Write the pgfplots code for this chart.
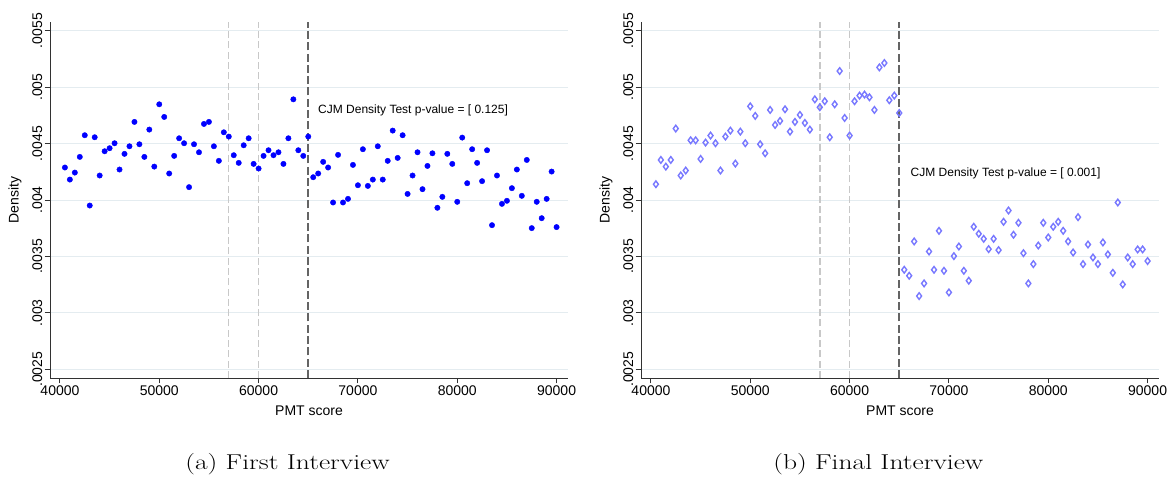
\documentclass[border=0pt]{standalone}
\usepackage{fontspec}
\usepackage{graphicx}
\usepackage{pgfplots}
\usepackage{pgfplotstable}
\pgfplotsset{compat=1.18}
\newfontfamily\hv{Liberation Sans}
\definecolor{dotblue}{RGB}{0,0,255}
\definecolor{diam}{RGB}{120,120,255}
\definecolor{diamfill}{RGB}{218,218,255}
\definecolor{gridc}{RGB}{228,236,240}
\definecolor{lgray}{RGB}{200,200,200}
\definecolor{dgray}{RGB}{100,100,100}
\definecolor{axc}{RGB}{50,50,50}

\pgfplotstableread{
x y
40500 .004288
41000 .004181
41500 .004243
42000 .004382
42500 .004574
43000 .003951
43500 .004556
44000 .004217
44500 .004432
45000 .004459
45500 .004503
46000 .004270
46500 .004409
47000 .004476
47500 .004692
48000 .004494
48500 .004382
49000 .004624
49500 .004296
50000 .004848
50500 .004736
51000 .004235
51500 .004391
52000 .004547
52500 .004503
53000 .004114
53500 .004494
54000 .004423
54500 .004674
55000 .004692
55500 .004476
56000 .004347
56500 .004600
57000 .004562
57500 .004397
58000 .004329
58500 .004485
59000 .004547
59500 .004320
60000 .004279
60500 .004391
61000 .004441
61500 .004397
62000 .004423
62500 .004320
63000 .004547
63500 .004892
64000 .004441
64500 .004391
65000 .004562
65500 .004202
66000 .004235
66500 .004338
67000 .004288
67500 .003978
68000 .004400
68500 .003978
69000 .004010
69500 .004311
70000 .004131
70500 .004450
71000 .004125
71500 .004181
72000 .004476
72500 .004181
73000 .004347
73500 .004615
74000 .004373
74500 .004574
75000 .004054
75500 .004217
76000 .004423
76500 .004096
77000 .004302
77500 .004414
78000 .003931
78500 .004028
79000 .004409
79500 .004320
80000 .003984
80500 .004553
81000 .004149
81500 .004450
82000 .004329
82500 .004167
83000 .004441
83500 .003777
84000 .004217
84500 .003966
85000 .003993
85500 .004105
86000 .004270
86500 .004037
87000 .004355
87500 .003751
88000 .003984
88500 .003839
89000 .004010
89500 .004252
90000 .003760
}\firstint

\pgfplotstableread{
x y
40500 .004140
41000 .004355
41500 .004296
42000 .004355
42500 .004633
43000 .004217
43500 .004261
44000 .004529
44500 .004529
45000 .004364
45500 .004509
46000 .004571
46500 .004503
47000 .004261
47500 .004562
48000 .004615
48500 .004323
49000 .004606
49500 .004503
50000 .004830
50500 .004745
51000 .004494
51500 .004414
52000 .004798
52500 .004665
53000 .004701
53500 .004804
54000 .004606
54500 .004692
55000 .004754
55500 .004683
56000 .004624
56500 .004892
57000 .004822
57500 .004875
58000 .004556
58500 .004848
59000 .005143
59500 .004727
60000 .004571
60500 .004875
61000 .004925
61500 .004934
62000 .004910
62500 .004798
63000 .005175
63500 .005214
64000 .004884
64500 .004925
65000 .004771
65500 .003382
66000 .003329
66500 .003633
67000 .003149
67500 .003261
68000 .003544
68500 .003382
69000 .003727
69500 .003373
70000 .003181
70500 .003503
71000 .003588
71500 .003373
72000 .003285
72500 .003763
73000 .003701
73500 .003656
74000 .003565
74500 .003656
75000 .003556
75500 .003807
76000 .003907
76500 .003692
77000 .003798
77500 .003529
78000 .003261
78500 .003432
79000 .003597
79500 .003798
80000 .003668
80500 .003763
81000 .003807
81500 .003727
82000 .003633
82500 .003535
83000 .003848
83500 .003432
84000 .003606
84500 .003491
85000 .003432
85500 .003624
86000 .003518
86500 .003355
87000 .003978
87500 .003252
88000 .003491
88500 .003432
89000 .003562
89500 .003562
90000 .003459
}\finalint

\pgfplotsset{stataax/.style={
  scale only axis, width=518pt, height=356.3pt,
  anchor=south west,
  xmin=39000, xmax=91150, ymin=0.002423, ymax=0.00558,
  axis x line*=bottom, axis y line*=left,
  axis line style={-, axc, line width=0.9pt},
  xtick={40000,50000,60000,70000,80000,90000},
  xticklabels={40000,50000,60000,70000,80000,90000},
  ytick={0.0025,0.003,0.0035,0.004,0.0045,0.005,0.0055},
  yticklabels={.0025,.003,.0035,.004,.0045,.005,.0055},
  scaled x ticks=false, scaled y ticks=false,
  tick align=outside, major tick length=5.5pt,
  tick style={axc, line width=0.9pt},
  ymajorgrids, major grid style={gridc, line width=1pt},
  tick label style={font=\hv\fontsize{14}{16}\selectfont},
  xticklabel style={anchor=north, inner sep=2pt},
  yticklabel style={rotate=90, anchor=south, inner sep=2pt},
  xlabel={PMT score}, ylabel={Density},
  label style={font=\hv\fontsize{14}{16}\selectfont},
  x label style={at={(axis description cs:0.5,-0.0926)}, anchor=center},
  y label style={at={(axis description cs:-0.0676,0.5)}, anchor=center},
  clip=false,
}}

\begin{document}
\begin{tikzpicture}
\path[use as bounding box] (0,0) rectangle (1171pt,478pt);
% Left panel
\begin{axis}[stataax, at={(50pt,100pt)}]
\addplot[lgray, line width=1.4pt, dash pattern=on 7pt off 3.3pt] coordinates {(57000,0.002423) (57000,0.00558)};
\addplot[lgray, line width=1.4pt, dash pattern=on 7pt off 3.3pt] coordinates {(60000,0.002423) (60000,0.00558)};
\addplot[dgray, line width=1.6pt, dash pattern=on 8pt off 3.3pt] coordinates {(65000,0.002423) (65000,0.00558)};
\addplot[only marks, mark=*, mark size=2.7pt, mark options={draw=dotblue, fill=dotblue}] table[x=x,y=y] {\firstint};
\node[anchor=west, inner sep=0, font=\hv\fontsize{12}{14}\selectfont] at (axis cs:65980,0.004797) {CJM Density Test p-value = [ 0.125]};
\end{axis}
% Right panel
\begin{axis}[stataax, at={(641pt,100pt)}]
\addplot[lgray, line width=1.4pt, dash pattern=on 7pt off 3.3pt] coordinates {(57000,0.002423) (57000,0.00558)};
\addplot[lgray, line width=1.4pt, dash pattern=on 7pt off 3.3pt] coordinates {(60000,0.002423) (60000,0.00558)};
\addplot[dgray, line width=1.6pt, dash pattern=on 8pt off 3.3pt] coordinates {(65000,0.002423) (65000,0.00558)};
\addplot[only marks, mark=diamond, mark size=3.3pt, mark options={draw=diam, fill=diamfill, line width=1.4pt}] table[x=x,y=y] {\finalint};
\node[anchor=west, inner sep=0, font=\hv\fontsize{12}{14}\selectfont] at (axis cs:66130,0.004239) {CJM Density Test p-value = [ 0.001]};
\end{axis}
% captions
\node[anchor=base] at (287.5pt,8.7pt) {\scalebox{1.28}[1]{\fontsize{21.5}{25}\selectfont (a) First Interview}};
\node[anchor=base] at (878.3pt,8.7pt) {\scalebox{1.28}[1]{\fontsize{21.5}{25}\selectfont (b) Final Interview}};
\end{tikzpicture}
\end{document}
